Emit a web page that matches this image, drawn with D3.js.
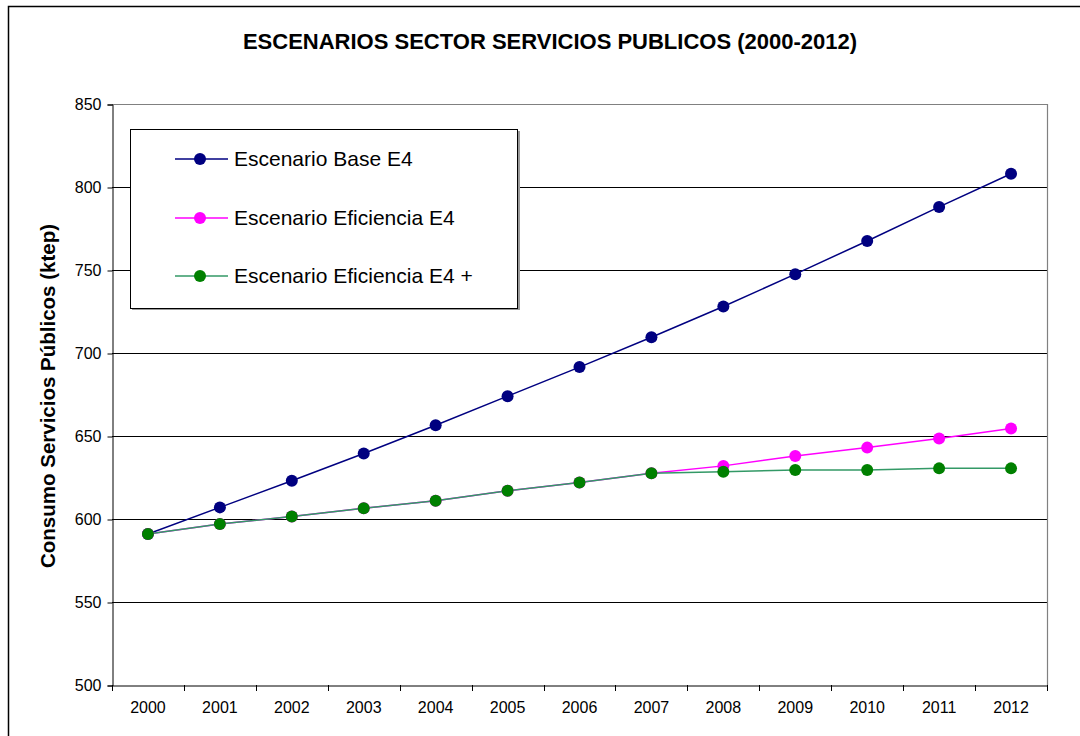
<!DOCTYPE html>
<html><head><meta charset="utf-8">
<script src="https://cdn.jsdelivr.net/npm/d3@7"></script>
<style>body{margin:0;background:#fff;} svg{display:block;font-family:"Liberation Sans",Arial,sans-serif;}</style>
</head><body><svg id="c" width="1080" height="736"></svg>
<script>
const years = ["2000","2001","2002","2003","2004","2005","2006","2007","2008","2009","2010","2011","2012"];
const base = [591, 607, 623, 639.5, 656.5, 674, 691.5, 709.5, 728, 747.5, 767.5, 788, 808];
const efic = [591, 597, 601.5, 606.5, 611, 617, 622, 627.5, 632, 638, 643, 648.5, 654.5];
const eficPlus = [591, 597, 601.5, 606.5, 611, 617, 622, 627.5, 628.5, 629.5, 629.5, 630.5, 630.5];
const yTicks = [500, 550, 600, 650, 700, 750, 800, 850];
const seriesNames = ["Escenario Base E4", "Escenario Eficiencia E4", "Escenario Eficiencia E4 +"];
const lineColors = ["#000080", "#ff00ff", "#339966"];
const markerColors = ["#000080", "#ff00ff", "#008000"];

const svg = d3.select("#c");
const L = 112, R = 1047, T = 104, B = 685;

svg.append("rect").attr("x", 8.5).attr("y", 6.5).attr("width", 1100).attr("height", 800)
  .attr("fill", "none").attr("stroke", "#000").attr("stroke-width", 1.5);

const x = d3.scaleBand().domain(years).range([L, R]);
const y = d3.scaleLinear().domain([500, 850]).range([B, T]);

// gridlines
svg.append("g").selectAll("line").data(yTicks.filter(v => v > 500 && v < 850)).join("line")
  .attr("x1", L).attr("x2", R).attr("y1", d => Math.round(y(d)) + 0.5).attr("y2", d => Math.round(y(d)) + 0.5)
  .attr("stroke", "#000").attr("stroke-width", 1);
// plot top/right border grey
svg.append("path").attr("d", `M${L},${T + 0.5}H${R + 0.5}V${B}`).attr("fill", "none").attr("stroke", "#808080").attr("stroke-width", 1.2);

// axes
const yAxis = d3.axisLeft(y).tickValues(yTicks).tickSize(5).tickPadding(6);
const gy = svg.append("g").attr("transform", `translate(${L + 0.5},0.5)`).call(yAxis);
gy.select(".domain").attr("stroke", "#000");
gy.selectAll("text").attr("font-size", 16).attr("fill", "#000");

const xAxis = d3.axisBottom(x).tickSize(0).tickPadding(16);
const gx = svg.append("g").attr("transform", `translate(0,${B + 0.5})`).call(xAxis);
gx.select(".domain").attr("stroke", "#000");
gx.selectAll("text").attr("font-size", 16).attr("fill", "#000");
// boundary ticks
const bounds = years.map(d => x(d)).concat([R]);
svg.append("g").selectAll("line").data(bounds).join("line")
  .attr("x1", d => Math.round(d) + 0.5).attr("x2", d => Math.round(d) + 0.5)
  .attr("y1", B).attr("y2", B + 6).attr("stroke", "#000");

// lines
const allSeries = [base, efic, eficPlus];
const line = d3.line().x((d, i) => x(years[i]) + x.bandwidth() / 2).y(d => y(d));
allSeries.forEach((s, k) => {
  svg.append("path").datum(s).attr("d", line).attr("fill", "none")
    .attr("stroke", lineColors[k]).attr("stroke-width", 1.5);
});
allSeries.forEach((s, k) => {
  svg.append("g").selectAll("circle").data(s).join("circle")
    .attr("cx", (d, i) => x(years[i]) + x.bandwidth() / 2).attr("cy", d => y(d)).attr("r", 6)
    .attr("fill", markerColors[k]);
});

// title
svg.append("text").attr("x", 550).attr("y", 49).attr("text-anchor", "middle")
  .attr("font-size", 22).attr("font-weight", "bold").text("ESCENARIOS SECTOR SERVICIOS PUBLICOS (2000-2012)");
// y title
svg.append("text").attr("transform", "translate(55,396) rotate(-90)").attr("text-anchor", "middle")
  .attr("font-size", 20.5).attr("font-weight", "bold").text("Consumo Servicios Públicos (ktep)");

// legend
const lg = svg.append("g");
lg.append("rect").attr("x", 132).attr("y", 131).attr("width", 388).attr("height", 179).attr("fill", "#999");
lg.append("rect").attr("x", 130.5).attr("y", 129.5).attr("width", 387).attr("height", 179)
  .attr("fill", "#fff").attr("stroke", "#000");
const ly = [159, 218, 276];
seriesNames.forEach((n, k) => {
  lg.append("line").attr("x1", 175).attr("x2", 228).attr("y1", ly[k]).attr("y2", ly[k])
    .attr("stroke", lineColors[k]).attr("stroke-width", 1.5);
  lg.append("circle").attr("cx", 200).attr("cy", ly[k]).attr("r", 6).attr("fill", markerColors[k]);
  lg.append("text").attr("x", 234).attr("y", ly[k] + 7).attr("font-size", 21).text(n);
});
</script></body></html>
